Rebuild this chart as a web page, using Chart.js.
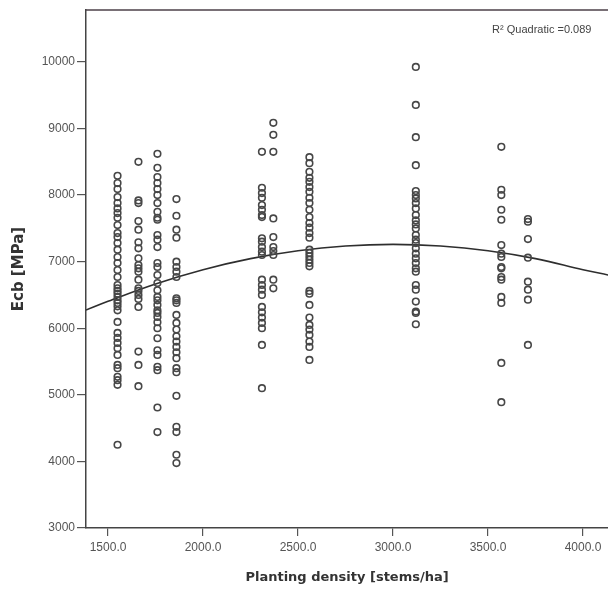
<!DOCTYPE html>
<html>
<head>
<meta charset="utf-8">
<script src="https://cdn.jsdelivr.net/npm/chart.js@4/dist/chart.umd.min.js"></script>
<style>
html, body { margin: 0; padding: 0; background: #fff; overflow: hidden; }
#wrap { width: 613px; height: 589px; position: relative; }
</style>
</head>
<body>
<div id="wrap"><canvas id="chart"></canvas></div>
<script>
// planting densities (stems/ha), one column of trees each
const densities = [1550, 1660, 1760, 1860, 2310, 2370, 2560, 3120, 3570, 3710];

// Ecb (MPa)
const ecb1550 = [8290, 8180, 8090, 7970, 7880, 7800, 7730, 7660, 7550, 7430, 7370, 7280, 7180, 7070, 6980, 6875, 6770, 6650, 6600, 6560, 6520, 6470, 6420, 6380, 6330, 6270, 6095, 5930, 5855, 5780, 5700, 5600, 5450, 5400, 5270, 5220, 5150, 4250];
const ecb1660 = [8500, 7920, 7880, 7610, 7480, 7290, 7200, 7050, 6950, 6900, 6850, 6730, 6600, 6560, 6500, 6440, 6320, 5650, 5450, 5130];
const ecb1760 = [8620, 8410, 8270, 8180, 8090, 8000, 7880, 7750, 7660, 7630, 7400, 7330, 7220, 6980, 6920, 6800, 6680, 6570, 6470, 6420, 6350, 6270, 6230, 6170, 6090, 6000, 5850, 5670, 5600, 5420, 5370, 4810, 4440];
const ecb1860 = [7940, 7690, 7480, 7360, 7000, 6920, 6850, 6770, 6450, 6420, 6380, 6200, 6080, 5980, 5880, 5800, 5720, 5640, 5550, 5400, 5340, 4985, 4520, 4440, 4100, 3975];
const ecb2310 = [8650, 8110, 8030, 7960, 7850, 7780, 7700, 7670, 7350, 7300, 7220, 7150, 7100, 6730, 6650, 6580, 6500, 6320, 6240, 6160, 6080, 6000, 5750, 5100];
const ecb2370 = [9085, 8905, 8650, 7650, 7370, 7220, 7160, 7100, 6730, 6600];
const ecb2560 = [8570, 8480, 8350, 8260, 8200, 8120, 8050, 7960, 7880, 7780, 7670, 7580, 7510, 7430, 7360, 7180, 7130, 7080, 7030, 6980, 6930, 6560, 6520, 6350, 6160, 6050, 5980, 5900, 5800, 5720, 5525];
const ecb3120 = [9925, 9355, 8870, 8450, 8060, 8000, 7950, 7880, 7800, 7700, 7620, 7560, 7500, 7400, 7330, 7280, 7200, 7120, 7050, 6980, 6900, 6850, 6650, 6580, 6400, 6250, 6230, 6060];
const ecb3570 = [8725, 8080, 8000, 7780, 7630, 7250, 7120, 7070, 6920, 6900, 6770, 6730, 6470, 6380, 5480, 4890];
const ecb3710 = [7640, 7600, 7340, 7060, 6700, 6580, 6430, 5750];
const columns = [ecb1550, ecb1660, ecb1760, ecb1860, ecb2310, ecb2370, ecb2560, ecb3120, ecb3570, ecb3710];

// quadratic fit curve
const fitX = [1384, 1500, 1750, 2000, 2250, 2500, 2750, 3000, 3250, 3500, 3750, 4000, 4132];
const fitY = [6273, 6405, 6666, 6880, 7046, 7165, 7236, 7260, 7236, 7165, 7046, 6880, 6800];

const xTicks = [1500, 2000, 2500, 3000, 3500, 4000];
const yTicks = [3000, 4000, 5000, 6000, 7000, 8000, 9000, 10000];

const points = [];
columns.forEach((col, i) => {
    col.forEach(v => points.push({ x: densities[i], y: v }));
});

// cadre du haut + texte R²
const cadre = {
    id: 'cadre',
    afterDraw(chart) {
        const { ctx, chartArea } = chart;
        ctx.save();
        ctx.strokeStyle = '#4d4048';
        ctx.lineWidth = 1.5;
        ctx.beginPath();
        ctx.moveTo(chartArea.left, chartArea.top);
        ctx.lineTo(chartArea.right + 2, chartArea.top);
        ctx.stroke();
        ctx.font = '11px "Liberation Sans", Arial, sans-serif';
        ctx.fillStyle = '#444';
        ctx.textBaseline = 'middle';
        ctx.fillText('R² Quadratic =0.089', chartArea.right - 116, chartArea.top + 20);
        ctx.restore();
    }
};

const tickFont = { family: '"Liberation Sans", Arial, sans-serif', size: 12 };

new Chart(document.getElementById('chart'), {
    type: 'scatter',
    data: {
        datasets: [{
            label: 'Ecb',
            data: points,
            pointStyle: 'circle',
            pointRadius: 3.3,
            pointBorderWidth: 1.6,
            pointBorderColor: '#474747',
            pointBackgroundColor: 'rgba(0,0,0,0)',
            pointHoverRadius: 3.3
        }, {
            label: 'Quadratic',
            data: fitX.map((x, i) => ({ x: x, y: fitY[i] })),
            showLine: true,
            pointRadius: 0,
            borderColor: '#2e2e2e',
            borderWidth: 1.6,
            tension: 0.4,
            fill: false
        }]
    },
    options: {
        responsive: true,
        maintainAspectRatio: false,
        animation: false,
        layout: { padding: { left: 4, top: 10, right: 0, bottom: 0 } },
        plugins: {
            legend: { display: false },
            tooltip: { enabled: false }
        },
        scales: {
            x: {
                type: 'linear',
                min: 1384,
                max: 4132,
                afterBuildTicks: s => { s.ticks = xTicks.map(v => ({ value: v })); },
                afterFit: s => { s.height = 61; s.paddingRight = 0; s.paddingLeft = 0; },
                grid: { drawOnChartArea: false, drawTicks: true, tickLength: 8, color: '#555', lineWidth: 1.2 },
                border: { display: true, color: '#444', width: 1.5 },
                ticks: {
                    color: '#555',
                    font: tickFont,
                    padding: 4,
                    maxRotation: 0,
                    callback: v => v.toFixed(1)
                },
                title: {
                    display: true,
                    text: 'Planting density [stems/ha]',
                    color: '#333',
                    font: { family: '"DejaVu Sans", Verdana, sans-serif', size: 13, weight: 'bold' },
                    padding: { top: 0, bottom: 4 }
                }
            },
            y: {
                min: 3000,
                max: 10780,
                afterBuildTicks: s => { s.ticks = yTicks.map(v => ({ value: v })); },
                afterFit: s => { s.width = 82; s.paddingTop = 0; s.paddingBottom = 0; },
                grid: { drawOnChartArea: false, drawTicks: true, tickLength: 9, color: '#555', lineWidth: 1.2 },
                border: { display: true, color: '#444', width: 1.5 },
                ticks: {
                    color: '#555',
                    font: tickFont,
                    padding: 2,
                    callback: v => String(v)
                },
                title: {
                    display: true,
                    text: 'Ecb [MPa]',
                    color: '#333',
                    font: { family: '"DejaVu Sans", Verdana, sans-serif', size: 15, weight: 'bold' },
                    padding: { top: 6, bottom: 0 }
                }
            }
        }
    },
    plugins: [cadre]
});
</script>
</body>
</html>
